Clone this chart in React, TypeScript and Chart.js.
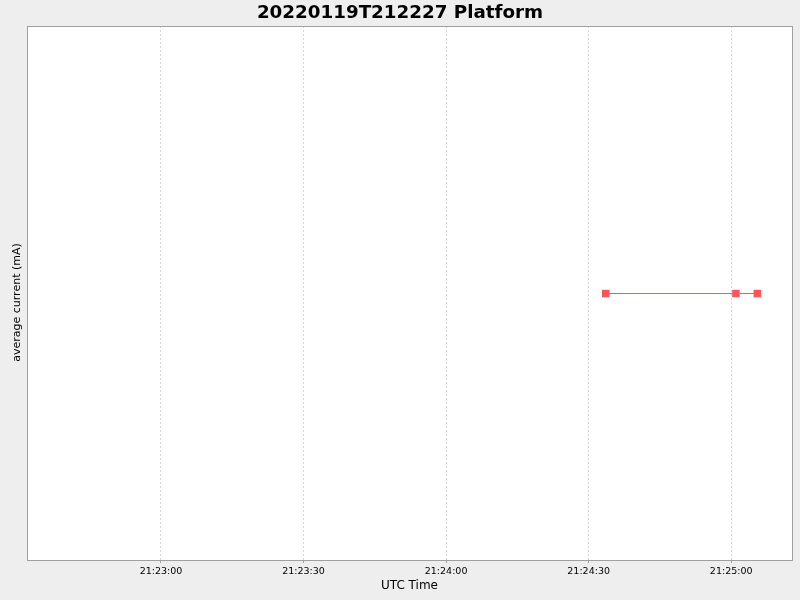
import { useEffect, useRef } from "react";
import Chart from "chart.js/auto";

// sample times (UTC) and readings
const sampleTimes = ["21:24:33.6", "21:25:01.0", "21:25:05.5"];
const avgCurrent = [1.0, 1.0, 1.0];

const tickTimes = ["21:23:00", "21:23:30", "21:24:00", "21:24:30", "21:25:00"];
const axisStart = "21:22:31.8";
const axisEnd = "21:25:12.8";

const toSeconds = (t: string) => {
  const [h, m, s] = t.split(":");
  return Number(h) * 3600 + Number(m) * 60 + Number(s);
};

const pad = (n: number) => String(Math.floor(n)).padStart(2, "0");
const formatTime = (v: number) =>
  `${pad(v / 3600)}:${pad((v % 3600) / 60)}:${pad(v % 60)}`;

const plotFrame = {
  id: "plotFrame",
  beforeDraw(chart: any) {
    const { ctx, chartArea: a, width, height } = chart;
    ctx.save();
    ctx.fillStyle = "#eeeeee";
    ctx.fillRect(0, 0, width, height);
    ctx.fillStyle = "#ffffff";
    ctx.fillRect(a.left, a.top, a.right - a.left, a.bottom - a.top);
    ctx.restore();
  },
  afterDraw(chart: any) {
    const { ctx, chartArea: a } = chart;
    ctx.save();
    ctx.strokeStyle = "#a0a0a0";
    ctx.lineWidth = 1;
    ctx.strokeRect(
      Math.round(a.left) + 0.5,
      Math.round(a.top) + 0.5,
      Math.round(a.right - a.left),
      Math.round(a.bottom - a.top)
    );
    // y axis label, JFreeChart style (a bit below the plot centre)
    ctx.translate(17, 302.5);
    ctx.rotate(-Math.PI / 2);
    ctx.fillStyle = "#000000";
    ctx.font = "11px 'DejaVu Sans'";
    ctx.textAlign = "center";
    ctx.textBaseline = "middle";
    ctx.fillText("average current (mA)", 0, 0);
    ctx.restore();
  },
};

const App = () => {
  const chartRef = useRef<HTMLCanvasElement | null>(null);
  const chartInstance = useRef<Chart | null>(null);

  useEffect(() => {
    document.body.style.margin = "0";
    if (!chartRef.current) return;
    if (chartInstance.current) chartInstance.current.destroy();

    const ctx = chartRef.current.getContext("2d");
    if (!ctx) return;

    chartInstance.current = new Chart(ctx, {
      type: "line",
      data: {
        datasets: [
          {
            label: "average current",
            data: sampleTimes.map((t, i) => ({ x: toSeconds(t), y: avgCurrent[i] })),
            borderColor: "#ff5555",
            backgroundColor: "#ff5555",
            borderWidth: 1,
            pointStyle: "rect",
            pointRadius: 5.3,
            pointBorderWidth: 0,
            tension: 0,
          },
        ],
      },
      options: {
        animation: false,
        responsive: false,
        devicePixelRatio: 1,
        layout: { padding: 0 },
        plugins: {
          legend: { display: false },
          tooltip: { enabled: false },
          title: {
            display: true,
            text: "20220119T212227 Platform",
            color: "#000000",
            font: { family: "DejaVu Sans", size: 18.3, weight: "bold" },
            padding: { top: 2.6, bottom: 1.44 },
          },
        },
        scales: {
          x: {
            type: "linear",
            min: toSeconds(axisStart),
            max: toSeconds(axisEnd),
            afterBuildTicks: (scale: any) => {
              scale.ticks = tickTimes.map((t) => ({ value: toSeconds(t) }));
            },
            afterFit: (scale: any) => {
              scale.height = 40;
              scale.paddingLeft = 0;
              scale.paddingRight = 8;
            },
            border: { display: false },
            grid: {
              color: "#d8d8d8",
              tickColor: "#a0a0a0",
              tickLength: 3,
            },
            ticks: {
              color: "#000000",
              font: { family: "DejaVu Sans", size: 9.5 },
              padding: 3,
              maxRotation: 0,
              autoSkip: false,
              callback: (v: any) => formatTime(Number(v)),
            },
            title: {
              display: true,
              text: "UTC Time",
              color: "#000000",
              font: { family: "DejaVu Sans", size: 12 },
              padding: { top: 0, bottom: 7 },
            },
          },
          y: {
            min: 0.004,
            max: 2,
            afterFit: (scale: any) => {
              scale.width = 27;
            },
            border: { display: false },
            grid: { display: false },
            ticks: { display: false },
            title: { display: false },
          },
        },
      },
      plugins: [plotFrame],
    } as any);

    // dashed vertical grid lines
    const xs: any = chartInstance.current.options.scales!.x;
    xs.grid.borderDash = [2, 2];
    xs.border = { display: false, dash: [2, 2] };
    chartInstance.current.update();

    return () => {
      if (chartInstance.current) {
        chartInstance.current.destroy();
        chartInstance.current = null;
      }
    };
  }, []);

  return (
    <div style={{ width: 800, height: 600 }}>
      <canvas ref={chartRef} width={800} height={600} />
    </div>
  );
};

export default App;
